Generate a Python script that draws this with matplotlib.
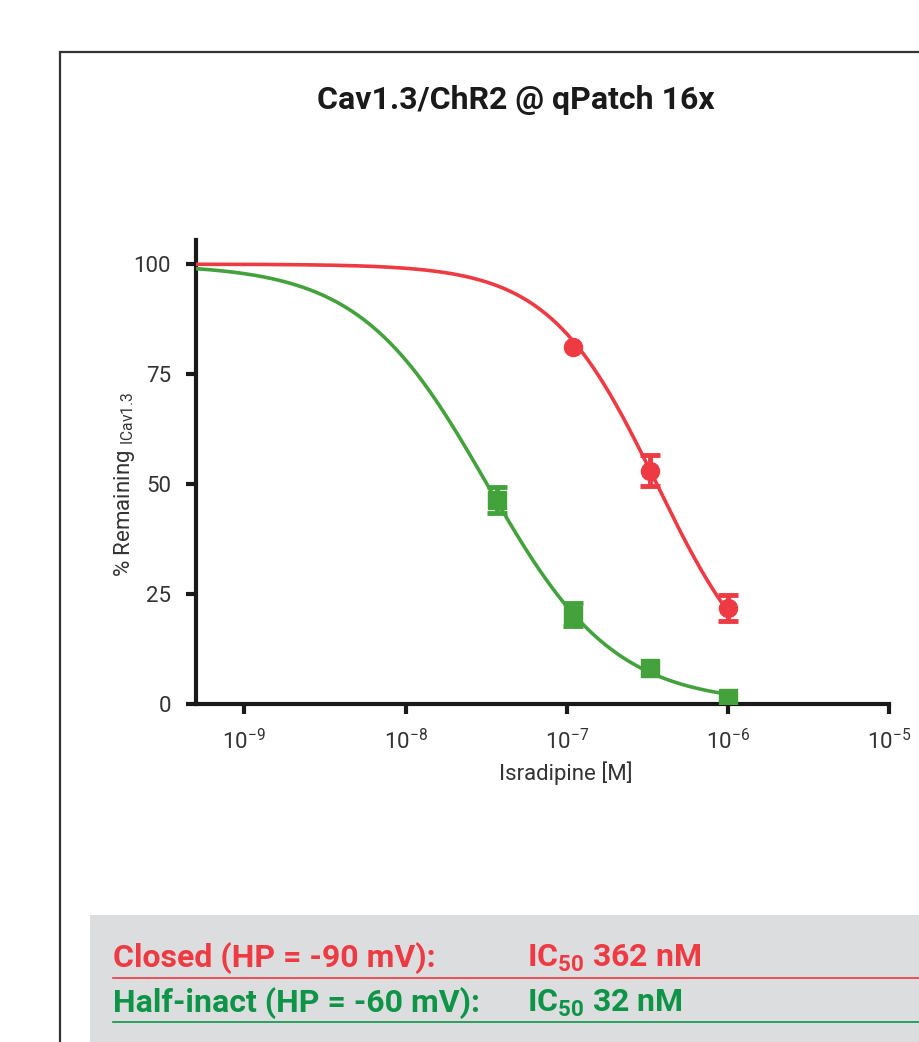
import matplotlib
matplotlib.use("Agg")
import matplotlib.pyplot as plt
from matplotlib.patches import Rectangle
from matplotlib.lines import Line2D
import numpy as np

# measured points (concentration in M, % remaining, error)
red_x = [1.1e-7, 3.3e-7, 1.0e-6]
red_y = [81.2, 53.0, 21.8]
red_err = [0.0, 3.5, 3.0]

green_x = [3.7e-8, 1.1e-7, 3.3e-7, 1.0e-6]
green_y = [46.4, 20.3, 8.2, 1.4]
green_err = [3.0, 2.6, 0.0, 0.0]

# Hill fit parameters (IC50 from the legend)
red_ic50, red_slope = 362e-9, 1.3
green_ic50, green_slope = 32e-9, 1.1

xticks = [1e-9, 1e-8, 1e-7, 1e-6, 1e-5]
xticklabels = [r"$\mathrm{10^{-9}}$", r"$\mathrm{10^{-8}}$", r"$\mathrm{10^{-7}}$",
               r"$\mathrm{10^{-6}}$", r"$\mathrm{10^{-5}}$"]
yticks = [0, 25, 50, 75, 100]

RED = "#EE3A43"
GREEN = "#44A23D"
GREEN_TXT = "#0E9447"

plt.rcParams["font.family"] = ["Roboto", "DejaVu Sans"]
plt.rcParams["mathtext.fontset"] = "custom"
plt.rcParams["mathtext.rm"] = "Roboto"
plt.rcParams["mathtext.bf"] = "Roboto:bold"


def hill(x, ic50, n):
    return 100.0 / (1.0 + (x / ic50) ** n)


fig = plt.figure(figsize=(9.19, 10.42), dpi=100)
ax = fig.add_axes([0.2133, 0.3244, 0.7541, 0.4453])

xmin = 10 ** -9.30
xfit = np.logspace(np.log10(xmin), -6, 300)
ax.plot(xfit, hill(xfit, red_ic50, red_slope), color=RED, lw=2.6, zorder=3)
ax.plot(xfit, hill(xfit, green_ic50, green_slope), color=GREEN, lw=2.6, zorder=3)

for xs, ys, es, col, mk, ms in [(red_x, red_y, red_err, RED, "o", 13),
                                (green_x, green_y, green_err, GREEN, "s", 13)]:
    xe = [x for x, e in zip(xs, es) if e > 0]
    ye = [y for y, e in zip(ys, es) if e > 0]
    ee = [e for e in es if e > 0]
    ax.errorbar(xe, ye, yerr=ee, fmt="none", ecolor=col, elinewidth=3.5,
                capsize=7.5, capthick=3.5, zorder=4)
    ax.plot(xs, ys, linestyle="none", marker=mk, ms=ms, color=col, zorder=5)

ax.set_xscale("log")
ax.set_xlim(xmin, 1e-5)
ax.set_ylim(0, 105.5)
ax.set_xticks(xticks)
ax.set_xticklabels(xticklabels)
ax.minorticks_off()
ax.set_yticks(yticks)

for side in ["top", "right"]:
    ax.spines[side].set_visible(False)
for side in ["left", "bottom"]:
    ax.spines[side].set_linewidth(3.0)
    ax.spines[side].set_color("#1a1a1a")
ax.tick_params(axis="both", width=3.0, length=7, color="#1a1a1a",
               labelsize=16, labelcolor="#333333")
ax.tick_params(axis="x", pad=11)
ax.tick_params(axis="y", pad=11)

fig.text(0.136, 0.5355, r"% Remaining $_{\mathrm{ICav1.3}}$", rotation=90,
         ha="center", va="center", fontsize=16, color="#333333")
fig.text(0.616, 0.258, "Isradipine [M]", ha="center", va="center",
         fontsize=16, color="#333333")

fig.text(0.5615, 0.904, "Cav1.3/ChR2 @ qPatch 16x", ha="center", va="center",
         fontsize=23, fontweight="bold", color="#1a1a1a")

# outer frame
fig.add_artist(Rectangle((0.0653, -0.05), 1.0, 1.0, transform=fig.transFigure,
                         fill=False, edgecolor="#333333", lw=1.6))

# grey result box
fig.add_artist(Rectangle((0.098, 0.0), 0.95, 0.1219, transform=fig.transFigure,
                         facecolor="#DCDDDF", edgecolor="none"))

rows = [("Closed (HP = -90 mV):", r"IC$_\mathbf{50}$ 362 nM", RED, 0.0805, 0.0614),
        ("Half-inact (HP = -60 mV):", r"IC$_\mathbf{50}$ 32 nM", GREEN_TXT, 0.0375, 0.0192)]
for label, val, col, ty, ly in rows:
    fig.text(0.123, ty, label, fontsize=23, fontweight="bold", color=col,
             va="center", ha="left")
    fig.text(0.573, ty, val, fontsize=23, fontweight="bold", color=col,
             va="center", ha="left")
    fig.add_artist(Line2D([0.123, 1.0], [ly, ly], transform=fig.transFigure,
                          color=col, lw=1.2))

fig.savefig("out.png", dpi=100)
